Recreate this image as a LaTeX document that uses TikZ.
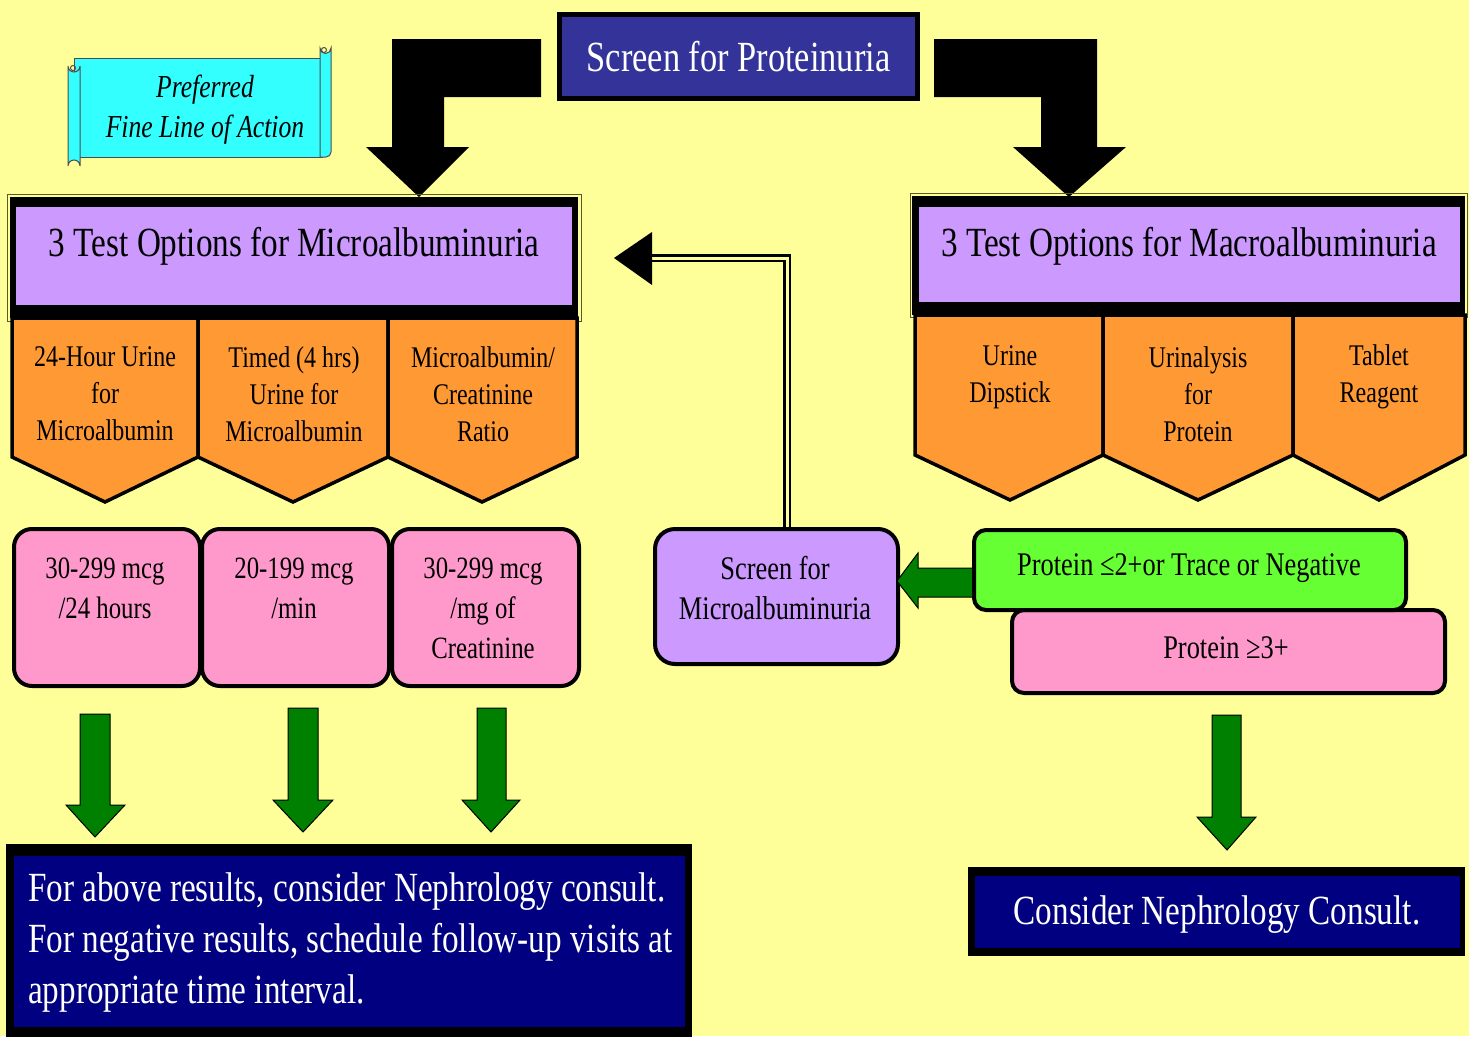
\documentclass[tikz,border=0pt]{standalone}
\usepackage{fontspec}
\setmainfont[FakeStretch=0.8]{Liberation Serif}
\usetikzlibrary{calc}
\definecolor{bgy}{RGB}{255,255,153}
\definecolor{scrblue}{RGB}{51,51,153}
\definecolor{lilac}{RGB}{204,153,255}
\definecolor{orng}{RGB}{255,153,51}
\definecolor{pnk}{RGB}{255,153,204}
\definecolor{lgreen}{RGB}{102,255,51}
\definecolor{dgreen}{RGB}{0,128,0}
\definecolor{navyx}{RGB}{0,0,128}
\definecolor{cyanx}{RGB}{51,255,255}
\definecolor{rimx}{RGB}{90,90,40}
\begin{document}
\begin{tikzpicture}[x=1pt,y=-1pt,
  txt/.style={inner sep=0pt, align=center, text=black},
  chev/.style={fill=orng, draw=black, line width=3.5, line join=miter},
  garrow/.style={fill=dgreen, draw=black, line width=1},
  barrow/.style={fill=black},
  f30/.style={font=\fontsize{30}{37}\selectfont},
  f31/.style={font=\fontsize{31}{40}\selectfont},
  f33/.style={font=\fontsize{33}{40}\selectfont},
  f41/.style={font=\fontsize{41.5}{51}\selectfont},
  rbox/.style={draw=black, line width=4, anchor=north west, inner sep=0pt}]
\useasboundingbox (0,0) rectangle (1469,1036);
\fill[bgy] (0,0) rectangle (1469,1036);

% top screen box
\node[draw=black, line width=5, fill=scrblue, minimum width=358, minimum height=84,
  anchor=north west, inner sep=0pt, text=white, font=\fontsize{43}{50}\selectfont] (screen) at (557,12) {Screen for Proteinuria};

% big black elbow arrows
\path[barrow] (541,39) -- (392,39) -- (392,147) -- (366,147) -- (419,197) -- (469,147) -- (444,147) -- (444,97) -- (541,97) -- cycle;
\path[barrow] (934,39) -- (1097,39) -- (1097,147) -- (1126,147) -- (1069,197) -- (1013,147) -- (1041,147) -- (1041,97) -- (934,97) -- cycle;

% scroll
\filldraw[fill=cyanx, draw=black!70, line width=1] (74,58) -- (322,58) -- (322,157) -- (74,157) -- cycle;
\filldraw[fill=cyanx, draw=black!70, line width=1] (320,157) -- (320,48) arc[start angle=180, end angle=0, radius=5.5] -- (331,152) arc[start angle=0, end angle=90, radius=5] -- cycle;
\draw[black!70, line width=1] (324,50) circle[radius=2.5];
\filldraw[fill=cyanx, draw=black!70, line width=1] (68,66) arc[start angle=180, end angle=0, radius=6] -- (80,166) arc[start angle=0, end angle=-180, radius=6] -- cycle;
\draw[black!70, line width=1] (73,68) circle[radius=2.5];
\node[txt, font=\fontsize{32}{40}\selectfont\itshape] (pref) at (205,110) {Preferred\\Fine Line of Action};

% left big box
\draw[rimx, line width=1] (7,194) rectangle (581,321);
\fill[black] (10,197) rectangle (578,318);
\node[fill=lilac, minimum width=556, minimum height=98, anchor=north west, inner sep=0pt] (micro) at (16,207) {};
\node[txt, f41] (microtxt) at (294,246) {3 Test Options for Microalbuminuria};

% right big box
\draw[rimx, line width=1] (910,193) rectangle (1467,317);
\fill[black] (912,196) rectangle (1465,315);
\node[fill=lilac, minimum width=541, minimum height=95, anchor=north west, inner sep=0pt] (macro) at (919,207) {};
\node[txt, f41] (macrotxt) at (1189,246) {3 Test Options for Macroalbuminuria};

% left chevrons
\path[chev] (12,318) -- (198,318) -- (198,457) -- (105,502) -- (12,457) -- cycle;
\path[chev] (198,318) -- (388,318) -- (388,457) -- (293,502) -- (198,457) -- cycle;
\path[chev] (388,318) -- (577,318) -- (577,457) -- (482,502) -- (388,457) -- cycle;
\node[txt, f30] (c1) at (105,394) {24-Hour Urine\\for\\Microalbumin};
\node[txt, f30] (c2) at (294,394) {Timed (4 hrs)\\Urine for\\Microalbumin};
\node[txt, f30] (c3) at (483,394) {Microalbumin/\\Creatinine\\Ratio};

% right chevrons
\path[chev] (915,315) -- (1103,315) -- (1103,455) -- (1010,500) -- (915,455) -- cycle;
\path[chev] (1103,315) -- (1293,315) -- (1293,455) -- (1198,500) -- (1103,455) -- cycle;
\path[chev] (1293,315) -- (1465,315) -- (1465,455) -- (1379,500) -- (1293,455) -- cycle;
\node[txt, f30] (c4) at (1010,377) {Urine\\Dipstick};
\node[txt, f30] (c5) at (1198,394) {Urinalysis\\for\\Protein};
\node[txt, f30] (c6) at (1379,377) {Tablet\\Reagent};

% pink result boxes
\node[rbox, fill=pnk, rounded corners=18, minimum width=186, minimum height=157] (p1) at (12,527) {};
\node[rbox, fill=pnk, rounded corners=18, minimum width=187, minimum height=157] (p2) at (200,527) {};
\node[rbox, fill=pnk, rounded corners=18, minimum width=187, minimum height=157] (p3) at (390,527) {};
\node[txt, f31] (p1t) at (105,588) {30-299 mcg\\/24 hours};
\node[txt, f31] (p2t) at (294,588) {20-199 mcg\\/min};
\node[txt, f31] (p3t) at (483,608) {30-299 mcg\\/mg of\\Creatinine};

% green down arrows (left)
\path[garrow] (80,714) -- (110,714) -- (110,805) -- (125,805) -- (95,837) -- (66,805) -- (80,805) -- cycle;
\path[garrow] (288,708) -- (318,708) -- (318,800) -- (333,800) -- (303,832) -- (273,800) -- (288,800) -- cycle;
\path[garrow] (477,708) -- (506,708) -- (506,800) -- (520,800) -- (491,832) -- (462,800) -- (477,800) -- cycle;

% bottom left box
\fill[black] (6,844) rectangle (692,1040);
\node[fill=navyx, minimum width=671, minimum height=171, anchor=north west, inner sep=0pt] (adv) at (14,856) {};
\node[inner sep=0pt, align=left, text=white, f41, anchor=west] (advtxt) at (28,943)
  {For above results, consider Nephrology consult.\\For negative results, schedule follow-up visits at\\appropriate time interval.};

% middle screen for microalbuminuria
\node[rbox, fill=lilac, rounded corners=20, minimum width=243, minimum height=135] (smscreen) at (653,527) {};
\node[txt, f33] (smtxt) at (775,588) {Screen for\\Microalbuminuria};
\coordinate (tipl) at (614,258);
\draw[black, line width=2.2, double=bgy, double distance=3] ($(smscreen.north)+(10.5,0)$) |- (652,258);
\fill[black] (652,232) -- (tipl) -- (652,285) -- cycle;

% green left arrow
\path[garrow] (975,568) -- (918,568) -- (918,553) -- (897,581) -- (918,608) -- (918,597) -- (975,597) -- cycle;

% protein boxes
\node[rbox, fill=pnk, rounded corners=12, minimum width=433, minimum height=83] (pos) at (1010,608) {};
\node[txt, f33] (postxt) at (1226,648) {Protein ≥3+};
\node[rbox, fill=lgreen, rounded corners=12, minimum width=432, minimum height=80] (neg) at (972,528) {};
\node[txt, f33] (negtxt) at (1189,568) {Protein ≤2+or Trace or Negative};

% right green arrow
\path[garrow] (1212,715) -- (1241,715) -- (1241,817) -- (1256,817) -- (1227,850) -- (1197,817) -- (1212,817) -- cycle;

% bottom right box
\fill[black] (968,867) rectangle (1465,956);
\node[fill=navyx, minimum width=485, minimum height=72, anchor=north west, inner sep=0pt] (consult) at (975,876) {};
\node[inner sep=0pt, text=white, f41] (consulttxt) at (1217,915) {Consider Nephrology Consult.};
\end{tikzpicture}
\end{document}
